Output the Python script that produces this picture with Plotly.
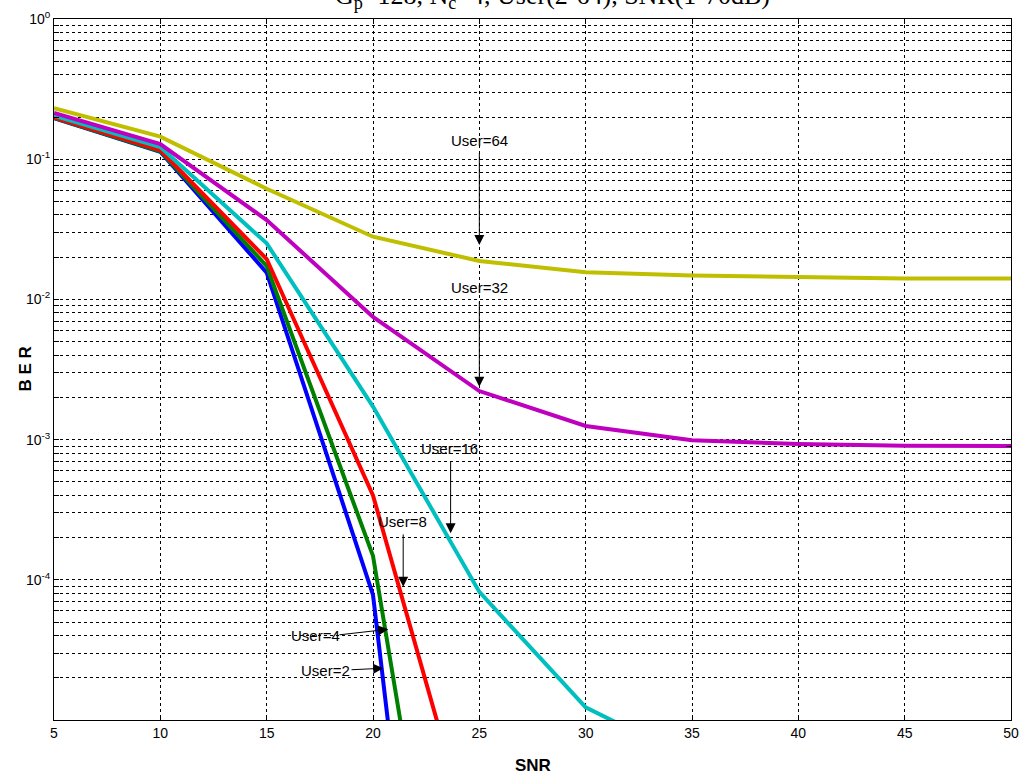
import math
import plotly.graph_objects as go

# SNR grid (dB)
snr = [5, 10, 15, 20, 25, 30, 35, 40, 45, 50]

# Bit error rate per number of active users
ber_user2 = [0.196, 0.113, 0.0155, 7.8e-5, 3e-11]
ber_user4 = [0.197, 0.114, 0.0173, 1.48e-4, 4e-9]
ber_user8 = [0.199, 0.116, 0.0194, 4.0e-4, 8.5e-7]
ber_user16 = [0.204, 0.122, 0.0251, 1.72e-3, 8.2e-5, 1.23e-5, 5.2e-6]
ber_user32 = [0.214, 0.128, 0.0368, 7.5e-3, 2.22e-3, 1.25e-3, 9.9e-4, 9.3e-4, 9.05e-4, 9.0e-4]
ber_user64 = [0.231, 0.145, 0.0616, 0.028, 0.0188, 0.0156, 0.0148, 0.0144, 0.0141, 0.0141]

series_names = ["User=2", "User=4", "User=8", "User=16", "User=32", "User=64"]
series_values = [ber_user2, ber_user4, ber_user8, ber_user16, ber_user32, ber_user64]
series_colors = ["#0000FF", "#008000", "#FF0000", "#00BFBF", "#BF00BF", "#BFBF00"]

x_ticks = [5, 10, 15, 20, 25, 30, 35, 40, 45, 50]

FONT = "Liberation Sans, Arial, Helvetica, sans-serif"

fig = go.Figure()
for name, vals, color in zip(series_names, series_values, series_colors):
    fig.add_trace(go.Scatter(
        x=snr[:len(vals)], y=vals, mode="lines", name=name,
        line=dict(color=color, width=4), showlegend=False,
    ))

# log-axis ticks: every 1..9 x decade gets a dotted grid line, decades get labels
y_tickvals, y_ticktext = [], []
for d in range(-5, 1):
    for m in range(1, 10):
        v = m * 10.0 ** d
        if v > 1.0 + 1e-12:
            break
        y_tickvals.append(v)
        if m == 1 and d > -5:
            y_ticktext.append(f"10<sup>{d}</sup>")
        else:
            y_ticktext.append("")

grid_style = dict(showgrid=True, gridcolor="#000000", gridwidth=1, griddash="3px,3px")
axis_style = dict(
    showline=True, linecolor="black", linewidth=1, mirror="ticks",
    ticks="inside", ticklen=5, tickcolor="black", zeroline=False,
    automargin=False,
    tickfont=dict(family=FONT, size=14, color="black"),
)

fig.update_layout(
    width=1021, height=780,
    margin=dict(l=54, r=10, t=19, b=60),
    paper_bgcolor="white", plot_bgcolor="white",
    xaxis=dict(range=[5, 50], tickvals=x_ticks, ticktext=[str(t) for t in x_ticks],
               **grid_style, **axis_style),
    yaxis=dict(type="log", range=[-5, 0], tickvals=y_tickvals, ticktext=y_ticktext,
               **grid_style, **axis_style),
)

# callouts: label centre, arrow tail, arrow tip (SNR, BER)
callouts = [
    ("User=64", (25.0, 0.137), (25.0, 0.113), (25.0, 0.0244)),
    ("User=32", (25.0, 0.01225), (25.0, 0.0099), (25.0, 0.00238)),
    ("User=16", (23.6, 8.7e-4), (23.65, 7.14e-4), (23.65, 2.15e-4)),
    ("User=8", (21.4, 2.59e-4), (21.42, 2.16e-4), (21.42, 8.93e-5)),
    ("User=4", (17.29, 3.98e-5), (18.35, 4.04e-5), (20.72, 4.44e-5)),
    ("User=2", (17.76, 2.25e-5), (18.92, 2.28e-5), (20.48, 2.34e-5)),
]
for text, (tx, ty), (ax_, ay_), (hx, hy) in callouts:
    fig.add_annotation(
        x=hx, y=math.log10(hy), ax=ax_, ay=math.log10(ay_),
        xref="x", yref="y", axref="x", ayref="y",
        text="", showarrow=True, arrowhead=2, arrowsize=2,
        arrowwidth=1, arrowcolor="black", standoff=0,
    )
    fig.add_annotation(
        x=tx, y=math.log10(ty), xref="x", yref="y", text=text,
        showarrow=False, xanchor="center", yanchor="middle",
        font=dict(family=FONT, size=15, color="black"),
    )

# axis titles and heading
fig.add_annotation(
    x=0, y=0.5, xref="paper", yref="paper", xshift=-29,
    text="<b>B E R</b>", textangle=-90, showarrow=False,
    xanchor="center", yanchor="middle",
    font=dict(family=FONT, size=17, color="black"),
)
fig.add_annotation(
    x=0.5, y=0, xref="paper", yref="paper", yshift=-45,
    text="<b>SNR</b>", showarrow=False, xanchor="center", yanchor="middle",
    font=dict(family=FONT, size=17, color="black"),
)
fig.add_annotation(
    x=0.5204, y=1, xref="paper", yref="paper", yshift=4,
    text="G<sub>p</sub>=128, N<sub>c</sub>=4, User(2-64), SNR(1-70dB)",
    showarrow=False, xanchor="center", yanchor="bottom",
    font=dict(family="Liberation Serif, Times New Roman, serif", size=26, color="black"),
)

fig.write_html("out.html")
